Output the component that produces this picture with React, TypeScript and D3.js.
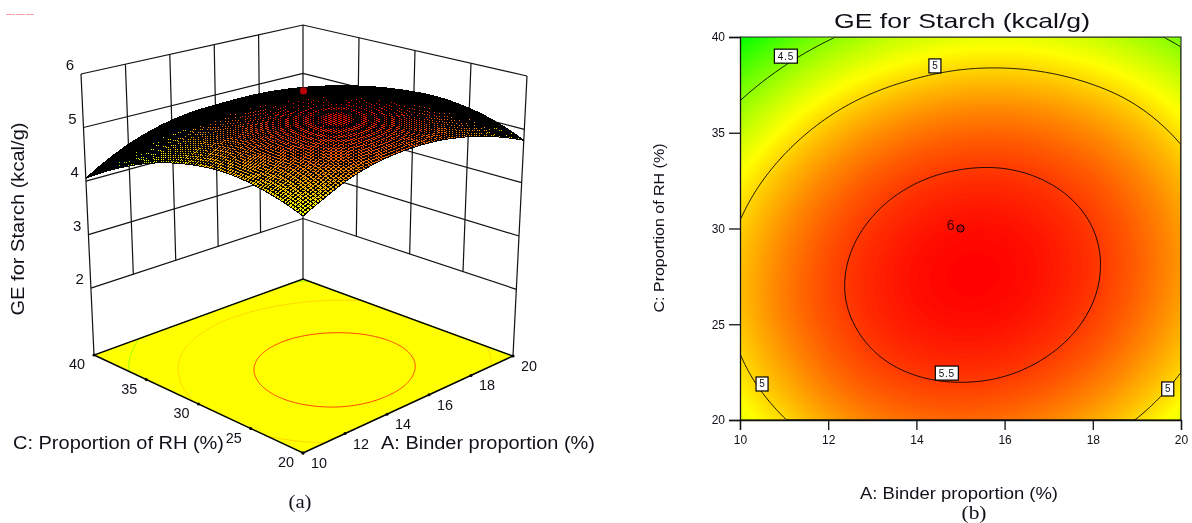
import { useEffect, useRef } from 'react';
import * as d3 from 'd3';

// axes of the two panels
const binderValues = [10, 11, 12, 13, 14, 15, 16, 17, 18, 19, 20];
const rhValues = [20, 22, 24, 26, 28, 30, 32, 34, 36, 38, 40];
const binderTicks = [10, 12, 14, 16, 18, 20];
const rhTicks = [20, 25, 30, 35, 40];
const geTicks = [2, 3, 4, 5, 6];
const contourLevels = [4.5, 5, 5.5];

// GE, one row per rhValues entry, one column per binderValues entry
const geRh20 = [4.800, 4.990, 5.160, 5.274, 5.335, 5.353, 5.328, 5.259, 5.147, 4.992, 4.794];
const geRh22 = [4.930, 5.130, 5.300, 5.416, 5.481, 5.502, 5.482, 5.417, 5.309, 5.159, 4.965];
const geRh24 = [5.020, 5.230, 5.395, 5.512, 5.582, 5.607, 5.591, 5.530, 5.427, 5.280, 5.091];
const geRh26 = [5.075, 5.284, 5.445, 5.562, 5.635, 5.665, 5.653, 5.596, 5.497, 5.355, 5.169];
const geRh28 = [5.072, 5.279, 5.444, 5.565, 5.643, 5.677, 5.669, 5.617, 5.521, 5.383, 5.202];
const geRh30 = [5.017, 5.228, 5.397, 5.522, 5.604, 5.643, 5.639, 5.591, 5.500, 5.366, 5.189];
const geRh32 = [4.916, 5.131, 5.304, 5.434, 5.520, 5.562, 5.563, 5.519, 5.432, 5.303, 5.130];
const geRh34 = [4.769, 4.988, 5.166, 5.299, 5.390, 5.436, 5.441, 5.401, 5.319, 5.193, 5.025];
const geRh36 = [4.575, 4.799, 4.981, 5.119, 5.213, 5.264, 5.273, 5.237, 5.159, 5.038, 4.873];
const geRh38 = [4.335, 4.563, 4.749, 4.885, 4.980, 5.035, 5.045, 5.015, 4.945, 4.835, 4.675];
const geRh40 = [4.050, 4.282, 4.472, 4.618, 4.721, 4.781, 4.798, 4.771, 4.701, 4.588, 4.432];
const geRows = [geRh20, geRh22, geRh24, geRh26, geRh28, geRh30, geRh32, geRh34, geRh36, geRh38, geRh40];

const designBinder = 15;
const designRh = 30;
const designGe = 5.8;

// labels sitting on the contour lines, in data units
const labelText = ['4.5', '5', '5.5', '5', '5'];
const labelBinder = [11.04, 14.42, 14.69, 10.5, 19.7];
const labelRh = [39.0, 38.49, 22.45, 21.88, 21.62];

const color = d3.scaleLinear<string>().domain([4.05, 4.865, 5.68]).range(['#00ff00', '#ffff00', '#ff0000']);

// catmull-rom through one row of the table, so the surface comes out smooth when drawn
const smooth1d = (v: number[], s: number) => {
  const n = v.length;
  const i = Math.min(Math.max(Math.floor(s), 0), n - 2);
  const t = s - i;
  const p = (k: number) => {
    if (k < 0) return 3 * v[0] - 3 * v[1] + v[2];
    if (k >= n) return 3 * v[n - 1] - 3 * v[n - 2] + v[n - 3];
    return v[k];
  };
  const a = p(i - 1), b = p(i), c = p(i + 1), d = p(i + 2);
  return 0.5 * (2 * b + (c - a) * t + (2 * a - 5 * b + 4 * c - d) * t * t + (3 * b - a - 3 * c + d) * t * t * t);
};
const binderIndex = d3.scaleLinear().domain([10, 20]).range([0, binderValues.length - 1]);
const rhIndex = d3.scaleLinear().domain([20, 40]).range([0, rhValues.length - 1]);
const geAt = (a: number, c: number) => {
  const sx = binderIndex(a);
  return smooth1d(geRows.map(r => smooth1d(r, sx)), rhIndex(c));
};

// unit square -> quad, [front, right, back, left]; the tick spacing along the edges is even, so bilinear
const quadMap = (q: number[][]) => (u: number, v: number) => {
  const [f, r, b, l] = q;
  return [0, 1].map(k => (1 - u) * (1 - v) * f[k] + u * (1 - v) * r[k] + u * v * b[k] + (1 - u) * v * l[k]);
};
const floorMap = quadMap([[303, 453], [513, 356], [303, 279], [94, 355]]);
const topMap = quadMap([[303, 146], [527, 76], [303, 25], [81, 74]]);
const floorZ = 0.75;
const uScale = d3.scaleLinear().domain([10, 20]).range([0, 1]);
const vScale = d3.scaleLinear().domain([20, 40]).range([0, 1]);
const zScale = d3.scaleLinear().domain([floorZ, 6]).range([0, 1]);
const project = (a: number, c: number, z: number): [number, number] => {
  const f = floorMap(uScale(a), vScale(c));
  const t = topMap(uScale(a), vScale(c));
  const k = zScale(z);
  return [f[0] + (t[0] - f[0]) * k, f[1] + (t[1] - f[1]) * k];
};

const FONT = '"Liberation Sans", Arial, sans-serif';
const INK = '#101018';

function draw(svgEl: SVGSVGElement) {
  const root = d3.select(svgEl);
  root.selectAll('*').remove();
  // the reference is a soft, resampled scan
  root.append('defs').append('filter').attr('id', 'soft')
    .attr('x', 0).attr('y', 0).attr('width', 1).attr('height', 1)
    .attr('color-interpolation-filters', 'sRGB')
    .append('feGaussianBlur').attr('stdDeviation', 0.4);
  const svg = root.append('g').attr('filter', 'url(#soft)');
  svg.append('rect').attr('width', 1192).attr('height', 523).attr('fill', '#fff');
  const line3d = d3.line();

  // ---------- panel (a)
  const a3 = svg.append('g').attr('font-family', FONT).attr('fill', INK);
  const wall = (pts: [number, number, number][]) =>
    a3.append('path')
      .attr('d', line3d(pts.map(p => project(p[0], p[1], p[2]))))
      .attr('fill', 'none').attr('stroke', '#111').attr('stroke-width', 1.2);

  geTicks.forEach(z => {
    wall([[10, 40, z], [20, 40, z], [20, 20, z]]);
  });
  binderTicks.forEach(a => wall([[a, 40, a === 10 || a === 20 ? floorZ : 2], [a, 40, 6]]));
  rhTicks.forEach(c => { if (c !== 40) wall([[20, c, c === 20 ? floorZ : 2], [20, c, 6]]); });

  // floor with the projected contours
  const corners: [number, number, number][] = [[10, 20, floorZ], [20, 20, floorZ], [20, 40, floorZ], [10, 40, floorZ]];
  a3.append('path')
    .attr('d', line3d(corners.map(p => project(p[0], p[1], p[2]))) + 'Z')
    .attr('fill', '#ffff00');

  const cols = 221, rows = 201;
  const field = new Float64Array(cols * rows);
  const fieldA = d3.scaleLinear().domain([0, cols]).range([10, 20]);
  const fieldC = d3.scaleLinear().domain([0, rows]).range([20, 40]);
  for (let j = 0; j < rows; j++) {
    for (let i = 0; i < cols; i++) {
      field[j * cols + i] = geAt(fieldA(i + 0.5), fieldC(j + 0.5));
    }
  }
  const lines = d3.contours().size([cols, rows]).smooth(true).thresholds(contourLevels)(field as any);
  const floorPath = d3.geoPath(d3.geoTransform({
    point(x, y) {
      const p = project(fieldA(x), fieldC(y), floorZ);
      this.stream.point(p[0], p[1]);
    },
  }));
  lines.forEach(c => {
    a3.append('path').attr('d', floorPath(c as any)).attr('fill', 'none')
      .attr('stroke', color(c.value)).attr('stroke-width', 1);
  });
  a3.append('path')
    .attr('d', line3d(corners.map(p => project(p[0], p[1], p[2]))) + 'Z')
    .attr('fill', 'none').attr('stroke', '#000').attr('stroke-width', 1.4);

  // tick dots on the front edges of the floor
  binderTicks.forEach(a => {
    const p = project(a, 20, floorZ);
    a3.append('circle').attr('cx', p[0]).attr('cy', p[1]).attr('r', 1.5).attr('fill', '#000');
    a3.append('text').attr('x', p[0] + 16).attr('y', p[1] + 15).attr('text-anchor', 'middle')
      .attr('font-size', 14.5).attr('textLength', 16).attr('lengthAdjust', 'spacingAndGlyphs').text(a);
  });
  rhTicks.forEach(c => {
    const p = project(10, c, floorZ);
    a3.append('circle').attr('cx', p[0]).attr('cy', p[1]).attr('r', 1.5).attr('fill', '#000');
    a3.append('text').attr('x', p[0] - 17).attr('y', p[1] + 14).attr('text-anchor', 'middle')
      .attr('font-size', 14.5).attr('textLength', 16).attr('lengthAdjust', 'spacingAndGlyphs').text(c);
  });
  geTicks.forEach(z => {
    const p = project(10, 40, z);
    a3.append('text').attr('x', p[0] - 7).attr('y', p[1] - 4).attr('text-anchor', 'end')
      .attr('font-size', 15).text(z);
  });

  // surface, painted from the back corner forward
  const N = 88;
  const au = d3.scaleLinear().domain([0, N]).range([10, 20]);
  const cv = d3.scaleLinear().domain([0, N]).range([20, 40]);
  const nodes: [number, number][][] = [];
  const nodeGe: number[][] = [];
  for (let j = 0; j <= N; j++) {
    nodes.push([]);
    nodeGe.push([]);
    for (let i = 0; i <= N; i++) {
      const z = geAt(au(i), cv(j));
      nodeGe[j].push(z);
      nodes[j].push(project(au(i), cv(j), z));
    }
  }
  const mesh = a3.append('g').attr('shape-rendering', 'crispEdges')
    .attr('stroke', '#000').attr('stroke-width', 1);
  const meshNode = mesh.node() as SVGGElement;
  for (let s = 2 * N - 1; s >= 0; s--) {
    for (let j = Math.max(0, s - N + 1); j <= Math.min(N - 1, s); j++) {
      const i = s - j;
      if (i < 0 || i >= N) continue;
      const quad = [nodes[j][i], nodes[j][i + 1], nodes[j + 1][i + 1], nodes[j + 1][i]];
      const el = document.createElementNS('http://www.w3.org/2000/svg', 'path');
      el.setAttribute('d', line3d(quad) + 'Z');
      el.setAttribute('fill', color((nodeGe[j][i] + nodeGe[j + 1][i + 1]) / 2));
      meshNode.appendChild(el);
    }
  }

  const dp = project(designBinder, designRh, designGe);
  a3.append('circle').attr('cx', dp[0]).attr('cy', dp[1]).attr('r', 3.6).attr('fill', '#b80008');

  a3.append('text').attr('transform', 'translate(24,219) rotate(-90)').attr('text-anchor', 'middle')
    .attr('font-size', 18).attr('textLength', 193).attr('lengthAdjust', 'spacingAndGlyphs')
    .text('GE for Starch (kcal/g)');
  a3.append('text').attr('x', 13).attr('y', 449).attr('font-size', 18)
    .attr('textLength', 211).attr('lengthAdjust', 'spacingAndGlyphs').text('C: Proportion of RH (%)');
  a3.append('text').attr('x', 381).attr('y', 449).attr('font-size', 18)
    .attr('textLength', 214).attr('lengthAdjust', 'spacingAndGlyphs').text('A: Binder proportion (%)');
  a3.append('text').attr('x', 300).attr('y', 508).attr('text-anchor', 'middle')
    .attr('font-family', '"Liberation Serif", serif').attr('font-size', 18)
    .attr('textLength', 23).attr('lengthAdjust', 'spacingAndGlyphs').text('(a)');

  // the faint red scrap in the top left corner of the scan
  a3.append('line').attr('x1', 6).attr('x2', 34).attr('y1', 14.5).attr('y2', 14.5)
    .attr('stroke', '#f4a0a8').attr('stroke-width', 1).attr('stroke-dasharray', '9 1');

  // ---------- panel (b)
  const x = d3.scaleLinear().domain([10, 20]).range([740, 1181]);
  const y = d3.scaleLinear().domain([20, 40]).range([420, 37]);
  const b = svg.append('g').attr('font-family', FONT).attr('fill', INK);

  const clipId = 'heat-clip';
  root.select('defs').append('clipPath').attr('id', clipId).append('rect')
    .attr('x', 740).attr('y', 37).attr('width', 441).attr('height', 383);

  const heatPath = d3.geoPath(d3.geoTransform({
    point(px, py) {
      this.stream.point(x(fieldA(px)), y(fieldC(py)));
    },
  }));
  const heat = b.append('g').attr('clip-path', `url(#${clipId})`);
  heat.append('rect').attr('x', 740).attr('y', 37).attr('width', 441).attr('height', 383)
    .attr('fill', color(4.05));
  const steps = d3.range(4.06, 5.7, 0.0125);
  d3.contours().size([cols, rows]).smooth(true).thresholds(steps)(field as any).forEach(c => {
    heat.append('path').attr('d', heatPath(c as any)).attr('fill', color(c.value));
  });
  lines.forEach(c => {
    heat.append('path').attr('d', heatPath(c as any)).attr('fill', 'none')
      .attr('stroke', '#000').attr('stroke-width', 0.9);
  });

  const axisY = b.append('g').attr('transform', 'translate(740,0)')
    .call(d3.axisLeft(y).tickValues(rhTicks).tickSize(11).tickPadding(4).tickFormat(d3.format('d') as any));
  const axisX = b.append('g').attr('transform', 'translate(0,420)')
    .call(d3.axisBottom(x).tickValues(binderTicks).tickSize(10).tickPadding(5).tickFormat(d3.format('d') as any));
  [axisY, axisX].forEach(g => {
    g.attr('font-family', FONT).attr('font-size', 12);
    g.selectAll('text').attr('fill', INK);
    g.selectAll('line').attr('stroke', '#111').attr('stroke-width', 1.3);
    g.select('.domain').attr('stroke', '#111').attr('stroke-width', 1.3);
  });
  b.append('path')
    .attr('d', `M${x(10)},${y(40)}H${x(20)}V${y(20)}`)
    .attr('fill', 'none').attr('stroke', '#222').attr('stroke-width', 1.1);

  labelText.forEach((t, i) => {
    const cx = x(labelBinder[i]);
    const cy = y(labelRh[i]);
    const w = t.length > 1 ? 23 : 12;
    b.append('rect').attr('x', cx - w / 2).attr('y', cy - 7).attr('width', w).attr('height', 14)
      .attr('fill', '#fff').attr('stroke', '#000').attr('stroke-width', 1.2);
    b.append('text').attr('x', cx).attr('y', cy + 3.5).attr('text-anchor', 'middle')
      .attr('font-size', 10).attr('letter-spacing', t.length > 1 ? 0.8 : 0).text(t);
  });

  b.append('circle').attr('cx', x(designBinder)).attr('cy', y(designRh)).attr('r', 3.6)
    .attr('fill', '#c80808').attr('stroke', '#000').attr('stroke-width', 1);
  b.append('text').attr('x', x(designBinder) - 6).attr('y', y(designRh) + 1).attr('text-anchor', 'end')
    .attr('font-size', 14).attr('fill', '#400').text('6');

  b.append('text').attr('x', 962).attr('y', 28).attr('text-anchor', 'middle').attr('font-size', 21)
    .attr('textLength', 256).attr('lengthAdjust', 'spacingAndGlyphs').text('GE for Starch (kcal/g)');
  b.append('text').attr('transform', 'translate(664,228) rotate(-90)').attr('text-anchor', 'middle')
    .attr('font-size', 15).attr('textLength', 169).attr('lengthAdjust', 'spacingAndGlyphs')
    .text('C: Proportion of RH (%)');
  b.append('text').attr('x', 959).attr('y', 499).attr('text-anchor', 'middle').attr('font-size', 16)
    .attr('textLength', 198).attr('lengthAdjust', 'spacingAndGlyphs').text('A: Binder proportion (%)');
  b.append('text').attr('x', 974).attr('y', 519).attr('text-anchor', 'middle')
    .attr('font-family', '"Liberation Serif", serif').attr('font-size', 18)
    .attr('textLength', 25).attr('lengthAdjust', 'spacingAndGlyphs').text('(b)');
}

export default function App() {
  const ref = useRef<SVGSVGElement>(null);
  useEffect(() => {
    if (ref.current) draw(ref.current);
  }, []);
  return (
    <svg
      ref={ref}
      width={1192}
      height={523}
      style={{ position: 'absolute', left: 0, top: 0, display: 'block', background: '#fff' }}
    />
  );
}
